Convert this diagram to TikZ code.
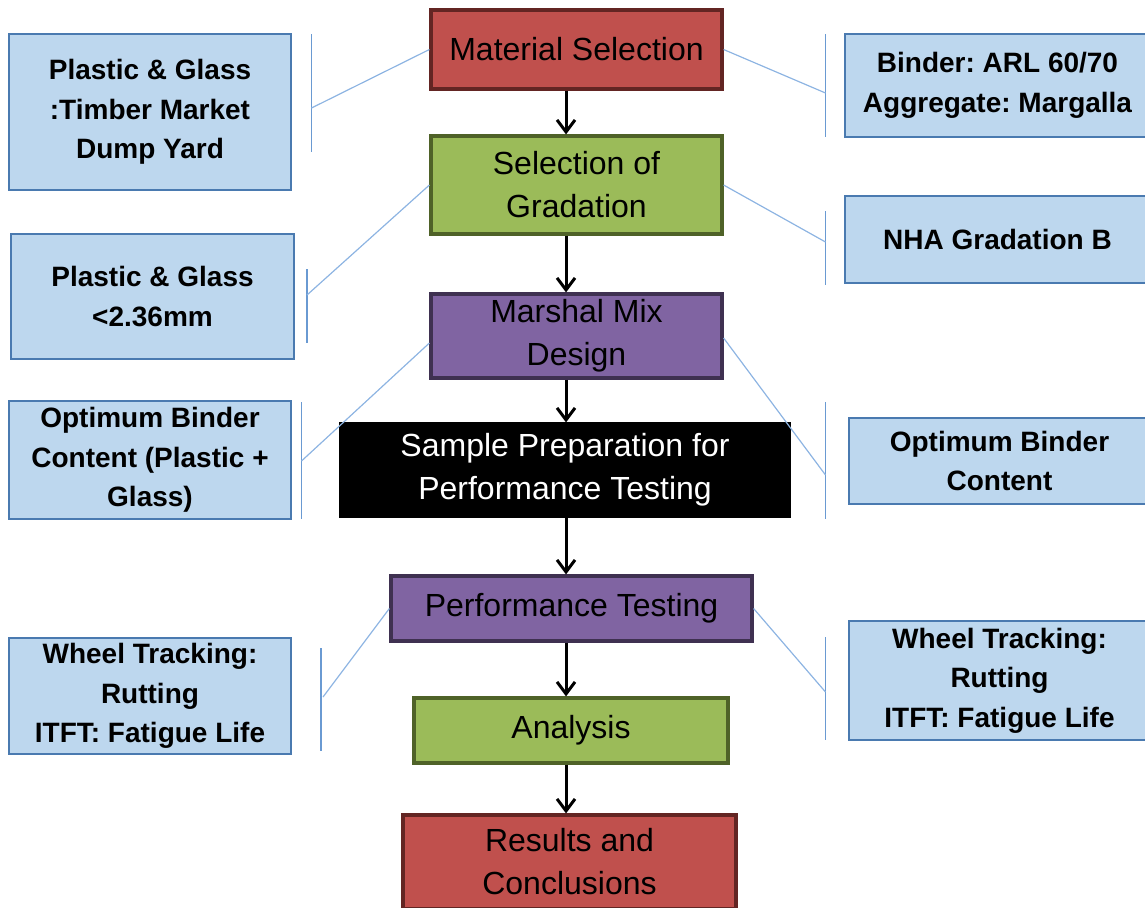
\documentclass[tikz,border=0pt]{standalone}
\usepackage{fontspec}
\setmainfont{Liberation Sans}
\usepackage{tikz}
\usetikzlibrary{positioning,arrows.meta}
\frenchspacing
\definecolor{redfill}{HTML}{C0504D}
\definecolor{redline}{HTML}{632523}
\definecolor{greenfill}{HTML}{9BBB59}
\definecolor{greenline}{HTML}{4F6228}
\definecolor{purplefill}{HTML}{8064A2}
\definecolor{purpleline}{HTML}{3F3151}
\definecolor{notefill}{HTML}{BDD7EE}
\definecolor{noteline}{HTML}{4A7AB0}
\definecolor{leadercol}{HTML}{8DB4E2}
\definecolor{barcol}{HTML}{6A9AD2}
\tikzset{
  stage/.style={rectangle, draw, line width=1.6pt, inner sep=0pt, align=center,
                font=\fontsize{16}{21.5}\selectfont},
  redbox/.style={stage, draw=redline, fill=redfill},
  greenbox/.style={stage, draw=greenline, fill=greenfill},
  purplebox/.style={stage, draw=purpleline, fill=purplefill},
  blackbox/.style={stage, draw=black, fill=black, text=white},
  note/.style={rectangle, draw=noteline, fill=notefill, line width=1pt, inner sep=0pt,
               align=center, font=\fontsize{14}{19.75}\selectfont\bfseries},
  flow/.style={-{Straight Barb[length=6pt,width=9pt]}, line width=1.5pt, black},
  leader/.style={draw=leadercol, line width=0.6pt},
  accent/.style={draw=barcol, line width=0.7pt},
}
\begin{document}
\begin{tikzpicture}[x=0.5pt,y=-0.5pt]
  \useasboundingbox (0,0) rectangle (1145,907);

  % main flow
  \node[redbox, minimum width=145.5pt, minimum height=39.5pt] (sel) at (576.5,49.5) {Material Selection};
  \node[greenbox, minimum width=145.5pt, minimum height=49pt] (grad) at (576.5,185) {Selection of\\Gradation};
  \node[purplebox, minimum width=145.5pt, minimum height=42pt] (mix) at (576.5,336) {Marshal Mix\\Design};
  \node[blackbox, minimum width=224pt, minimum height=46pt] (prep) at (565,470) {Sample Preparation for\\Performance Testing};
  \node[purplebox, minimum width=180.5pt, minimum height=32.5pt] (perf) at (571.5,608.5) {Performance Testing};
  \node[greenbox, minimum width=157pt, minimum height=32.5pt] (anal) at (571,730.5) {Analysis};
  \node[redbox, minimum width=166.5pt, minimum height=47pt] (res) at (569.5,862) {Results and\\Conclusions};

  \coordinate (axis) at (566,0);
  \draw[flow] (sel.south -| axis) -- (grad.north -| axis);
  \draw[flow] (grad.south -| axis) -- (mix.north -| axis);
  \draw[flow] (mix.south -| axis) -- (prep.north -| axis);
  \draw[flow] (prep.south -| axis) -- (perf.north -| axis);
  \draw[flow] (perf.south -| axis) -- (anal.north -| axis);
  \draw[flow] (anal.south -| axis) -- (res.north -| axis);

  % notes on the left
  \node[note, minimum width=141pt, minimum height=78pt] (src) at (150,112) {Plastic \& Glass\\:Timber Market\\Dump Yard};
  \node[note, minimum width=141.5pt, minimum height=62.5pt] (size) at (152.5,296.5) {Plastic \& Glass\\<2.36mm};
  \node[note, minimum width=141pt, minimum height=59pt] (obcmod) at (150,460) {Optimum Binder\\Content (Plastic +\\Glass)};
  \node[note, minimum width=141pt, minimum height=58pt] (testl) at (150,696) {Wheel Tracking:\\Rutting\\ITFT: Fatigue Life};

  % notes on the right
  \node[note, minimum width=152.5pt, minimum height=51.5pt] (binder) at (997.5,85.5) {Binder: ARL 60/70\\Aggregate: Margalla};
  \node[note, minimum width=152.5pt, minimum height=43.5pt] (nha) at (997.5,239.5) {NHA Gradation B};
  \node[note, minimum width=150.5pt, minimum height=43pt] (obc) at (999.5,461) {Optimum Binder\\Content};
  \node[note, minimum width=150.5pt, minimum height=59.5pt] (testr) at (999.5,680.5) {Wheel Tracking:\\Rutting\\ITFT: Fatigue Life};

  % callout bars
  \coordinate (srctop) at (311.5,34);   \coordinate (srcbot) at (311.5,152);  \coordinate (srctip) at (311.5,108);
  \coordinate (sizetop) at (307,269);   \coordinate (sizebot) at (307,343);   \coordinate (sizetip) at (307,295);
  \coordinate (obcmodtop) at (301.5,402); \coordinate (obcmodbot) at (301.5,519); \coordinate (obcmodtip) at (301.5,461);
  \coordinate (testltop) at (321,648);  \coordinate (testlbot) at (321,751);  \coordinate (testltip) at (323,697);
  \coordinate (bindertop) at (825.5,34); \coordinate (binderbot) at (825.5,137); \coordinate (bindertip) at (825.5,93);
  \coordinate (nhatop) at (825.5,211);  \coordinate (nhabot) at (825.5,285);  \coordinate (nhatip) at (825.5,242);
  \coordinate (obctop) at (825.5,402);  \coordinate (obcbot) at (825.5,519);  \coordinate (obctip) at (825.5,475);
  \coordinate (testrtop) at (825.5,637); \coordinate (testrbot) at (825.5,740); \coordinate (testrtip) at (825.5,692);

  \draw[accent] (srctop) -- (srcbot);
  \draw[accent] (sizetop) -- (sizebot);
  \draw[accent] (obcmodtop) -- (obcmodbot);
  \draw[accent] (testltop) -- (testlbot);
  \draw[accent] (bindertop) -- (binderbot);
  \draw[accent] (nhatop) -- (nhabot);
  \draw[accent] (obctop) -- (obcbot);
  \draw[accent] (testrtop) -- (testrbot);

  \draw[leader] (srctip) -- (sel.west);
  \draw[leader] (sizetip) -- (grad.west);
  \draw[leader] (obcmodtip) -- ([yshift=-3.5pt]mix.west);
  \draw[leader] (testltip) -- (perf.west);
  \draw[leader] (sel.east) -- (bindertip);
  \draw[leader] (grad.east) -- (nhatip);
  \draw[leader] ([yshift=-1pt]mix.east) -- (obctip);
  \draw[leader] (perf.east) -- (testrtip);
\end{tikzpicture}
\end{document}
